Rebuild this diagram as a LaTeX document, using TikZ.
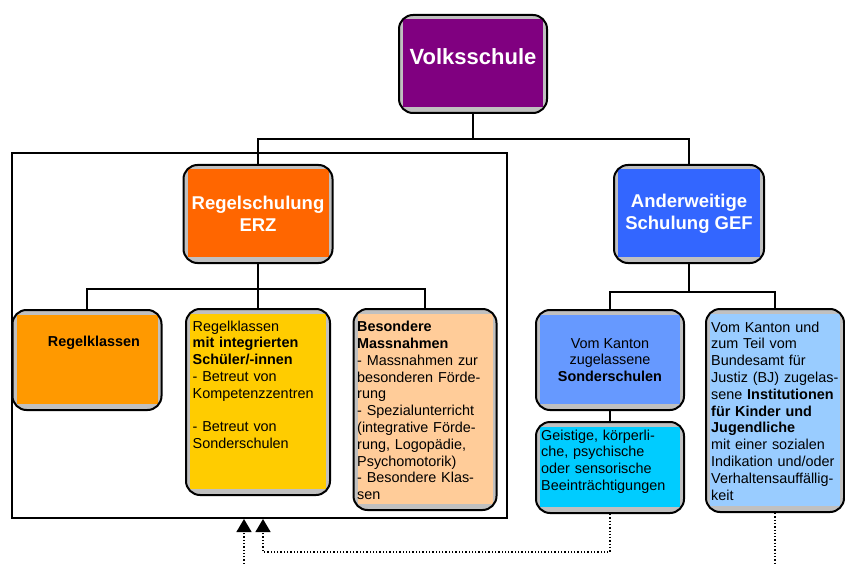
\documentclass[tikz,border=0pt]{standalone}
\usepackage{fontspec}
\setmainfont{Liberation Sans}
\usetikzlibrary{arrows.meta}
\definecolor{volkslila}{RGB}{128, 0, 128}
\definecolor{erzorange}{RGB}{255, 102, 0}
\definecolor{gefblau}{RGB}{51, 102, 255}
\definecolor{regelorange}{RGB}{255, 153, 0}
\definecolor{integgelb}{RGB}{255, 204, 0}
\definecolor{besondpfirsich}{RGB}{255, 204, 153}
\definecolor{sonderblau}{RGB}{102, 153, 255}
\definecolor{geistcyan}{RGB}{0, 204, 255}
\definecolor{institblau}{RGB}{153, 204, 255}
\definecolor{rand}{RGB}{192, 192, 192}

\begin{document}
\begin{tikzpicture}[x=1pt, y=-1pt,
  box/.style={draw, line width=2pt, rounded corners=14pt, fill=rand, inner sep=0pt,
    path picture={\fill[#1, sharp corners]
      ([shift={(4pt,-4.5pt)}]path picture bounding box.north west) rectangle
      ([shift={(-4pt,6pt)}]path picture bounding box.south east);}},
  head/.style={text=white, align=center, font=\fontsize{#1}{22}\selectfont\bfseries},
  txt/.style={inner sep=0pt, anchor=north west, text width=140pt, align=left,
    font=\fontsize{14.4}{16.8}\selectfont},
  conn/.style={line width=1.5pt},
  dots/.style={line width=1.3pt, dash pattern=on 1.3pt off 2pt}]

  \useasboundingbox (0,0) rectangle (845,564);

  % Rahmen Regelschulung
  \draw[line width=2pt] (12,153) rectangle (507,518);

  % obere Ebene
  \node[box=volkslila, head=22, minimum width=148pt, minimum height=98pt,
    text depth=14pt] (volks) at (473,64) {Volksschule};
  \node[box=erzorange, head=18.5, minimum width=149pt, minimum height=98pt]
    (erz) at (258,214) {Regelschulung\\ERZ};
  \node[box=gefblau, head=18.5, minimum width=150pt, minimum height=98pt]
    (gef) at (689,214) {Anderweitige\\Schulung GEF};

  % untere Ebene
  \node[box=regelorange, minimum width=149pt, minimum height=100pt, text depth=37pt,
    font=\fontsize{14.4}{16.8}\selectfont\bfseries] (regelkl) at (87,360)
    {\hspace*{14pt}Regelklassen};
  \node[box=integgelb, minimum width=144pt, minimum height=186pt] (integ) at (258,402) {};
  \node[box=besondpfirsich, minimum width=143pt, minimum height=201pt] (besond) at (425,409.5) {};
  \node[box=sonderblau, minimum width=148pt, minimum height=100pt, align=center,
    font=\fontsize{14.4}{16.8}\selectfont] (sonder) at (610,360)
    {Vom Kanton\\zugelassene\\\textbf{Sonderschulen}};
  \node[box=geistcyan, minimum width=148pt, minimum height=91pt] (geist) at (610,467.5) {};
  \node[box=institblau, minimum width=138pt, minimum height=203pt] (instit) at (775,410.5) {};

  \node[txt] (integtxt) at ([shift={(7.5pt,-12.5pt)}]integ.north west)
    {Regelklassen\\\textbf{mit integrierten}\\\textbf{Schüler/-innen}\\- Betreut von\\
     Kompetenzzentren\\\mbox{}\\- Betreut von\\Sonderschulen};
  \node[txt] (besondtxt) at ([shift={(4.5pt,-13pt)}]besond.north west)
    {\textbf{Besondere}\\\textbf{Massnahmen}\\- Massnahmen zur\\besonderen Förde-\\rung\\
     - Spezialunterricht\\(integrative Förde-\\rung, Logopädie,\\Psychomotorik)\\
     - Besondere Klas-\\sen};
  \node[txt] (geisttxt) at ([shift={(6pt,-8.5pt)}]geist.north west)
    {Geistige, körperli-\\che, psychische\\oder sensorische\\Beeinträchtigungen};
  \node[txt] (instittxt) at ([shift={(6pt,-13.5pt)}]instit.north west)
    {Vom Kanton und\\zum Teil vom\\Bundesamt für\\Justiz (BJ) zugelas-\\
     sene \textbf{Institutionen}\\\textbf{für Kinder und}\\\textbf{Jugendliche}\\
     mit einer sozialen\\Indikation und/oder\\Verhaltensauffällig-\\keit};

  % Verbindungen
  \draw[conn] (volks.south) -- ++(0,25) -| (erz.north);
  \draw[conn] (volks.south) -- ++(0,25) -| (gef.north);
  \foreach \ziel in {regelkl, integ, besond}
    \draw[conn] (erz.south) -- ++(0,25) -| (\ziel.north);
  \foreach \ziel in {sonder, instit}
    \draw[conn] (gef.south) -- ++(0,28) -| (\ziel.north);
  \draw[conn] (sonder.south) -- (geist.north);

  % gepunktete Zuweisungen
  \coordinate (pfeilA) at (244,519);
  \coordinate (pfeilB) at (263,519);
  \coordinate (untenA) at (244,564);
  \draw[dots, -{Triangle[width=15pt, length=13pt]}] (geist.south) -- ++(0,38) -| (pfeilB);
  \draw[dots, -{Triangle[width=15pt, length=13pt]}] (untenA) -- (pfeilA);
  \draw[dots] (instit.south) -- ++(0,52);
\end{tikzpicture}
\end{document}
